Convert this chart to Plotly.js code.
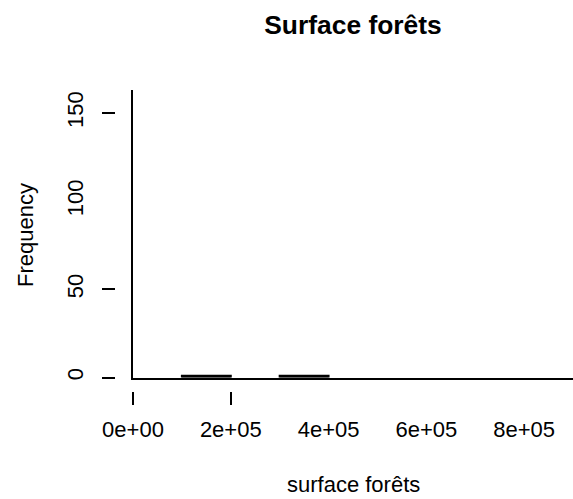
<!DOCTYPE html>
<html><head><meta charset="utf-8">
<script src="https://cdn.plot.ly/plotly-3.0.1.min.js"></script>
<style>html,body{margin:0;padding:0;background:#fff;}</style>
</head><body><div id="chart" style="width:573px;height:499px;"></div>
<script>
// Histogram bins (surface forêts), bin width 1e5
const binCenters = [50000, 150000, 250000, 350000, 450000, 550000, 650000, 750000, 850000];
const counts = [163, 1, 0, 1, 0, 0, 0, 0, 0];
const xTickVals = [0, 200000, 400000, 600000, 800000];
const xTickText = ['0e+00', '2e+05', '4e+05', '6e+05', '8e+05'];
const yTickVals = [0, 50, 100, 150];
const yTickText = ['0', '50', '100', '150'];
const xMarkVals = [0, 200000];
const yMarkVals = [0, 50, 150];

const W = 573, H = 499;
const FONT = 'Liberation Sans, Arial, Helvetica, sans-serif';
const xDom = [133 / W, 1];
const yDom = [(H - 377.5) / H, (H - 90) / H];
const xRange = [0, 900000];
const yRange = [0, 163];

const fill = counts.map((c, i) => i === 0 ? 'rgba(255,255,255,0)' : 'black');
const lw = counts.map((c, i) => (i === 0 || c === 0) ? 0 : 2);

// helper (empty) traces so that the overlaying tick/label axes are drawn
const helper = (xa, ya) => ({type: 'scatter', mode: 'markers', x: [null], y: [null], xaxis: xa, yaxis: ya,
  marker: {opacity: 0}, hoverinfo: 'skip', showlegend: false});

const data = [{
  type: 'bar', x: binCenters, y: counts, width: 100000,
  marker: {color: fill, line: {color: 'black', width: lw}},
  hoverinfo: 'x+y', xaxis: 'x', yaxis: 'y'
}, helper('x2', 'y'), helper('x3', 'y'), helper('x', 'y2'), helper('x', 'y3')];

const noGrid = {showgrid: false, zeroline: false, fixedrange: true};
const layout = {
  width: W, height: H,
  margin: {l: 0, r: 0, t: 0, b: 0, pad: 0},
  paper_bgcolor: 'white', plot_bgcolor: 'white',
  showlegend: false, bargap: 0,
  font: {family: FONT, color: 'black', size: 22},
  title: {text: 'Surface forêts', font: {family: FONT, size: 26.4, weight: 'bold', color: 'black'},
          xref: 'container', yref: 'container', x: 353 / W, xanchor: 'center', y: 1 - 25 / H, yanchor: 'middle'},
  xaxis: Object.assign({}, noGrid, {domain: xDom, range: xRange, anchor: 'y', showline: true, linecolor: 'black', linewidth: 2,
          ticks: '', showticklabels: false}),
  xaxis2: Object.assign({}, noGrid, {domain: xDom, range: xRange, overlaying: 'x', anchor: 'free', position: (H - 390.5) / H,
          side: 'bottom', showline: false, ticks: 'outside', ticklen: 13, tickwidth: 2, tickcolor: 'black',
          tickmode: 'array', tickvals: xMarkVals, showticklabels: false}),
  xaxis3: Object.assign({}, noGrid, {domain: xDom, range: xRange, overlaying: 'x', anchor: 'free', position: (H - 414) / H,
          side: 'bottom', showline: false, ticks: '', tickmode: 'array', tickvals: xTickVals, ticktext: xTickText,
          tickfont: {family: FONT, size: 22, color: 'black'}}),
  yaxis: Object.assign({}, noGrid, {domain: yDom, range: yRange, anchor: 'x', showline: true, linecolor: 'black', linewidth: 2,
          ticks: '', showticklabels: false}),
  yaxis2: Object.assign({}, noGrid, {domain: yDom, range: yRange, overlaying: 'y', anchor: 'free', position: 115 / W,
          side: 'left', showline: false, ticks: 'outside', ticklen: 13, tickwidth: 2, tickcolor: 'black',
          tickmode: 'array', tickvals: yMarkVals, showticklabels: false}),
  yaxis3: Object.assign({}, noGrid, {domain: yDom, range: yRange, overlaying: 'y', anchor: 'free', position: 87 / W,
          side: 'left', showline: false, ticks: '', tickmode: 'array', tickvals: yTickVals, ticktext: yTickText,
          tickangle: -90, tickfont: {family: FONT, size: 22, color: 'black'}}),
  annotations: [
    {text: 'surface forêts', xref: 'paper', yref: 'paper', x: 353 / W, y: (H - 484) / H, xanchor: 'center', yanchor: 'middle',
     showarrow: false, font: {family: FONT, size: 22, color: 'black'}},
    {text: 'Frequency', xref: 'paper', yref: 'paper', x: 25 / W, y: (H - 235) / H, xanchor: 'center', yanchor: 'middle',
     textangle: -90, showarrow: false, font: {family: FONT, size: 22, color: 'black'}}
  ]
};
Plotly.newPlot('chart', data, layout, {displayModeBar: false, staticPlot: true});
</script></body></html>
